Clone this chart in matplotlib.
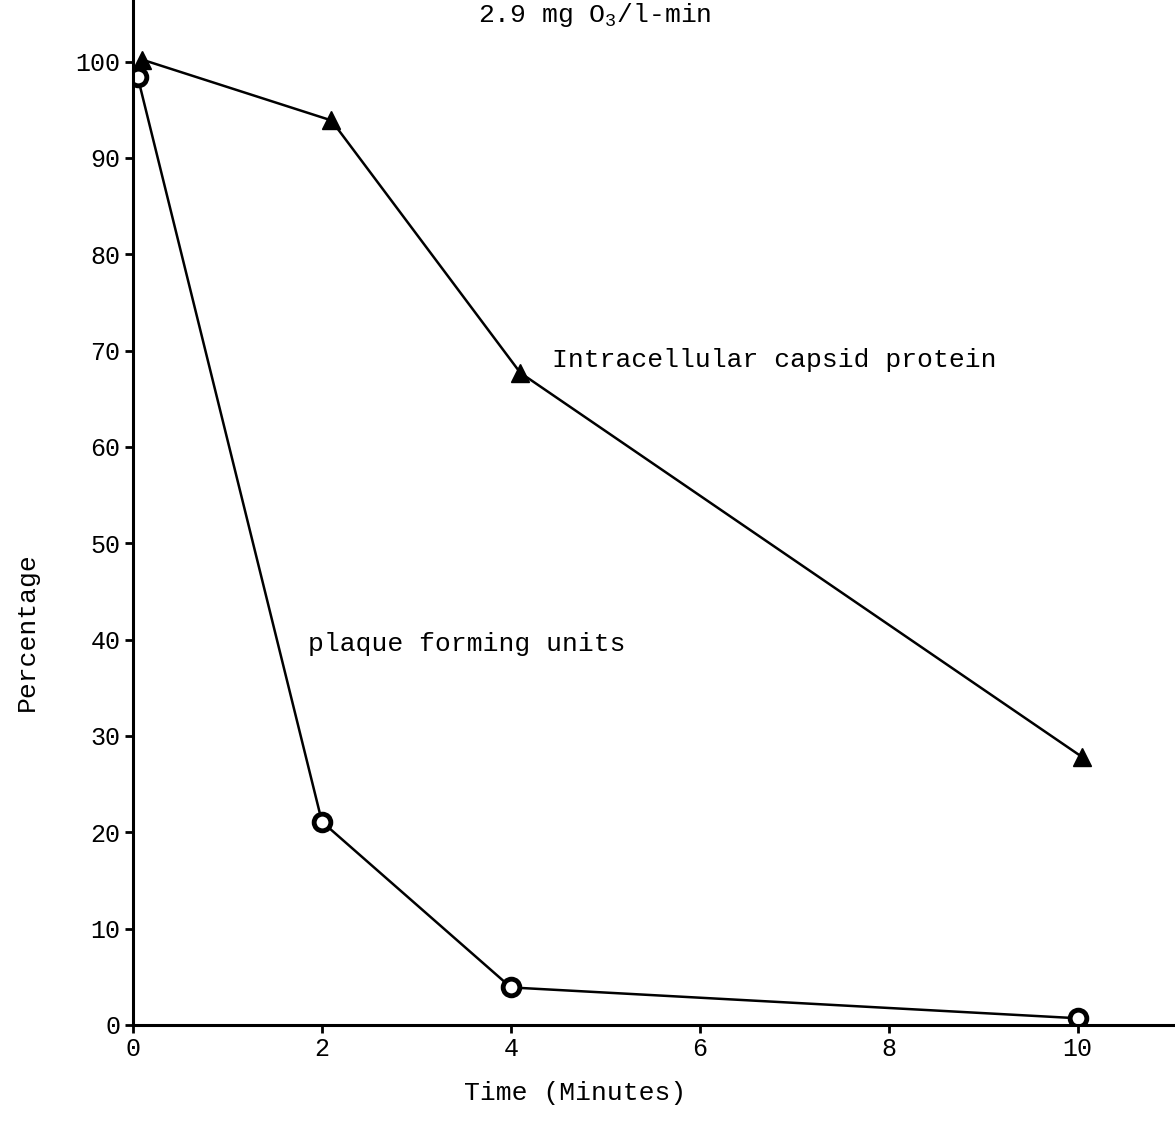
import matplotlib
matplotlib.use("Agg")
import matplotlib.pyplot as plt

# Ozone exposure series (percent of control vs. minutes)
minutes_capsid = [0.1, 2.1, 4.1, 10.05]
capsid_pct = [100.2, 93.9, 67.7, 27.8]

minutes_pfu = [0.05, 2.0, 4.0, 10.0]
pfu_pct = [98.4, 21.1, 3.9, 0.7]

x_ticks = [0, 2, 4, 6, 8, 10]
y_ticks = [0, 10, 20, 30, 40, 50, 60, 70, 80, 90, 100]

plt.rcParams['font.family'] = ['Liberation Mono', 'DejaVu Sans Mono']
plt.rcParams['mathtext.fontset'] = 'custom'
plt.rcParams['mathtext.rm'] = 'Liberation Mono'

fig = plt.figure(figsize=(11.75, 11.38), dpi=100, facecolor='white')
ax = fig.add_axes([133 / 1175, 113 / 1138, 1 - 133 / 1175, 1 - 113 / 1138])

ax.plot(minutes_capsid, capsid_pct, color='black', lw=1.8,
        marker='^', markersize=13, markerfacecolor='black', markeredgecolor='black')
ax.plot(minutes_pfu, pfu_pct, color='black', lw=1.8,
        marker='o', markersize=12, markerfacecolor='white',
        markeredgecolor='black', markeredgewidth=3.5)

ax.set_xlim(0, 11.03)
ax.set_ylim(0, 106.4)
ax.set_xticks(x_ticks)
ax.set_yticks(y_ticks)
ax.tick_params(axis='both', direction='out', length=6, width=2, labelsize=18, pad=3)

for side in ['top', 'right']:
    ax.spines[side].set_visible(False)
for side in ['left', 'bottom']:
    ax.spines[side].set_linewidth(2.2)

ax.text(4.44, 69.0, 'Intracellular capsid protein', fontsize=19, va='center', ha='left')
ax.text(1.85, 39.6, 'plaque forming units', fontsize=19, va='center', ha='left')

fig.text(0.506, 1 - 22 / 1138, r'2.9 mg $\mathrm{O}_3$/l-min', fontsize=19,
         ha='center', va='baseline')
fig.text(575 / 1175, 1 - 1093 / 1138, 'Time (Minutes)', fontsize=19,
         ha='center', va='center')
fig.text(27 / 1175, 1 - 632 / 1138, 'Percentage', fontsize=19,
         ha='center', va='center', rotation=90)

fig.savefig('out.png', dpi=100, facecolor='white')
plt.close(fig)
